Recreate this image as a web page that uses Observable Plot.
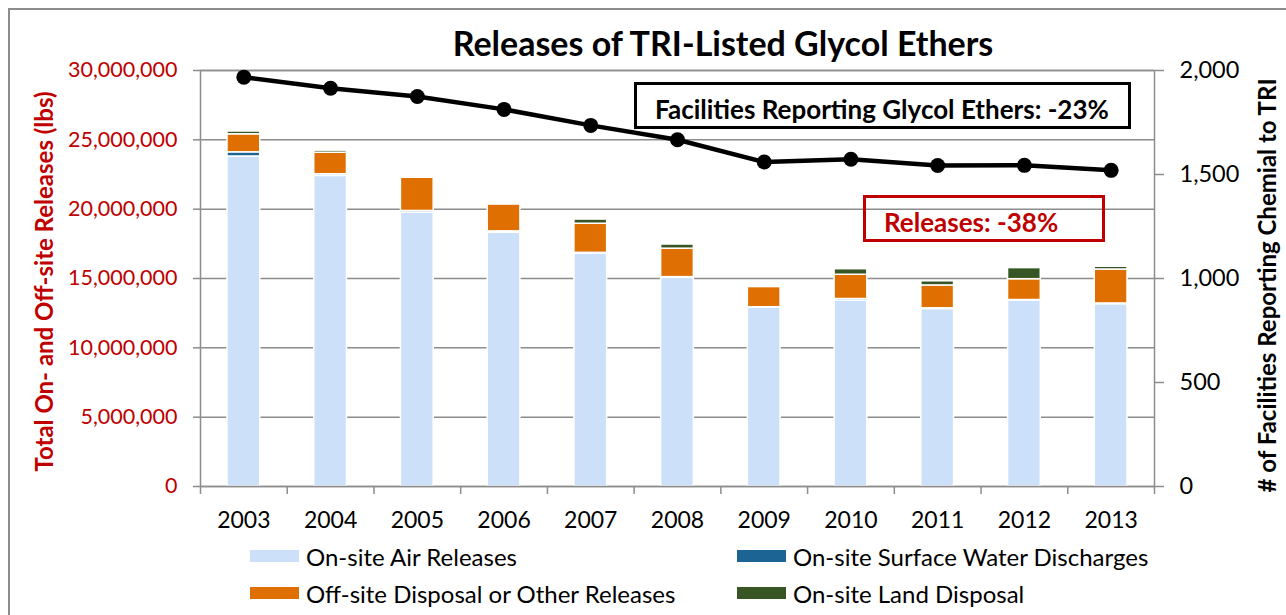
<!DOCTYPE html>
<html>
<head>
<meta charset="utf-8">
<script src="https://cdn.jsdelivr.net/npm/d3@7"></script>
<script src="https://cdn.jsdelivr.net/npm/@observablehq/plot@0.6"></script>
<style>
  html, body { margin: 0; padding: 0; background: #fff; }
  #wrap { position: relative; width: 1286px; height: 615px; overflow: hidden; font-family: Lato, "Open Sans", sans-serif; }
  #frame { position: absolute; left: 8px; top: 8px; width: 1400px; height: 800px; border: 2px solid #8c8c8c; box-sizing: border-box; }
  #title { position: absolute; left: 0; width: 1446px; top: 22px; text-align: center; font-weight: 700; font-size: 34px; color: #000; white-space: nowrap; }
  .chart { position: absolute; left: 0; top: 0; width: 1286px; height: 530px; }
  .chart svg { max-width: none !important; display: block; overflow: visible; }
  .box { position: absolute; box-sizing: border-box; font-weight: 700; white-space: nowrap; overflow: visible; }
  .leg { position: absolute; display: flex; align-items: center; font-size: 24px; color: #000; white-space: nowrap; }
  .sw { width: 49px; height: 12px; margin-right: 7px; }
</style>
</head>
<body>
<div id="wrap">
  <div id="frame"></div>
  <div id="title"></div>
  <div id="chart1" class="chart"></div>
  <div id="chart2" class="chart"></div>
  <div id="boxF" class="box"></div>
  <div id="boxR" class="box"></div>
  <div id="legend"></div>
</div>
<script>
// ---------- data ----------
const years = ["2003","2004","2005","2006","2007","2008","2009","2010","2011","2012","2013"];
const categories = ["On-site Air Releases", "On-site Surface Water Discharges", "Off-site Disposal or Other Releases", "On-site Land Disposal"];
const colors = ["#cce0f9", "#1b6493", "#de6f00", "#375623"];
const airReleases   = [23800000, 22400000, 19750000, 18300000, 16800000, 15050000, 12900000, 13400000, 12800000, 13400000, 13150000];
const waterDischarges = [300000, 120000, 120000, 100000, 50000, 50000, 30000, 120000, 50000, 50000, 50000];
const offsiteDisposal = [1300000, 1550000, 2400000, 1950000, 2100000, 2050000, 1450000, 1750000, 1650000, 1500000, 2450000];
const landDisposal  = [200000, 150000, 20000, 20000, 300000, 300000, 0, 400000, 300000, 800000, 200000];
const facilities = [1968, 1915, 1875, 1813, 1736, 1667, 1560, 1573, 1543, 1544, 1520];
const leftTicks = [0, 5000000, 10000000, 15000000, 20000000, 25000000, 30000000];
const rightTicks = [0, 500, 1000, 1500, 2000];
const titleText = "Releases of TRI-Listed Glycol Ethers";
const leftTitle = "Total On- and Off-site Releases (lbs)";
const rightTitle = "# of Facilities Reporting Chemial to TRI";
const facText = "Facilities Reporting Glycol Ethers: -23%";
const relText = "Releases: -38%";

// ---------- build ----------
const series = [airReleases, waterDischarges, offsiteDisposal, landDisposal];
const stacked = [];
years.forEach((y, i) => series.forEach((s, k) => stacked.push({i, year: y, cat: categories[k], value: s[i]})));
const lineData = years.map((y, i) => ({i, year: y, count: facilities[i]}));

const W = 1286, H = 530;
const M = {left: 200, right: 132, top: 70, bottom: 44};
const gray = "#8c8c8c";
const red = "#c00000";
const fmt = d3.format(",");

document.getElementById("title").textContent = titleText;

const common = {
  width: W, height: H,
  marginLeft: M.left, marginRight: M.right, marginTop: M.top, marginBottom: M.bottom,
  style: {fontFamily: "Lato, 'Open Sans', sans-serif", fontSize: "21px", background: "transparent", overflow: "visible", maxWidth: "none"},
  x: {type: "linear", domain: [0, years.length], axis: null}
};

const chart1 = Plot.plot({
  ...common,
  y: {domain: [0, 30000000], axis: null},
  color: {domain: categories, range: colors},
  marks: [
    Plot.gridY(leftTicks, {stroke: gray, strokeOpacity: 1, strokeWidth: 1.5}),
    Plot.rectY(stacked, {x1: "i", x2: d => d.i + 1, y: "value", fill: "cat", stroke: "#fff", strokeWidth: 1.5, insetLeft: 27, insetRight: 27}),
    Plot.frame({stroke: gray, strokeWidth: 1.5}),
    Plot.axisY(leftTicks, {tickSize: 7, tickPadding: 16, tickFormat: fmt, fill: red, stroke: gray, strokeWidth: 1.5, fontSize: 21.5, label: null}),
    Plot.axisX(d3.range(years.length + 1), {tickSize: 8, tickFormat: () => "", stroke: gray, strokeWidth: 1.5, label: null}),
    Plot.axisX(d3.range(years.length).map(i => i + 0.5), {tickSize: 0, tickPadding: 25, tickFormat: v => years[Math.floor(v)], fill: "#000", fontSize: 23, label: null}),
    Plot.text([leftTitle], {frameAnchor: "left", textAnchor: "middle", dx: -155, dy: 3, rotate: -90, fill: red, fontWeight: "bold", fontSize: 24})
  ]
});
document.getElementById("chart1").appendChild(chart1);

const chart2 = Plot.plot({
  ...common,
  y: {domain: [0, 2000], axis: null},
  marks: [
    Plot.line(lineData, {x: d => d.i + 0.5, y: "count", stroke: "#000", strokeWidth: 4.5}),
    Plot.dot(lineData, {x: d => d.i + 0.5, y: "count", r: 7.5, fill: "#000"}),
    Plot.axisY(rightTicks, {anchor: "right", tickSize: 9, tickPadding: 16, tickFormat: fmt, fill: "#000", stroke: gray, strokeWidth: 1.5, fontSize: 23.5, label: null}),
    Plot.text([rightTitle], {frameAnchor: "right", textAnchor: "middle", dx: 114, dy: 7, rotate: -90, fill: "#000", fontWeight: "bold", fontSize: 24})
  ]
});
document.getElementById("chart2").appendChild(chart2);

// annotation boxes
const bF = document.getElementById("boxF");
bF.textContent = facText;
Object.assign(bF.style, {left: "634px", top: "82px", width: "497px", height: "47px", border: "3px solid #000", fontSize: "26px", color: "#000", paddingLeft: "18px", lineHeight: "49px"});
const bR = document.getElementById("boxR");
bR.textContent = relText;
Object.assign(bR.style, {left: "863px", top: "195px", width: "242px", height: "47px", border: "3px solid " + red, fontSize: "26px", color: red, paddingLeft: "18px", lineHeight: "49px"});

// legend
const legendPos = [[250, 556], [737, 556], [250, 593], [737, 593]];
const legend = document.getElementById("legend");
categories.forEach((c, k) => {
  const d = document.createElement("div");
  d.className = "leg";
  d.style.left = legendPos[k][0] + "px";
  d.style.top = (legendPos[k][1] - 15) + "px";
  d.style.height = "30px";
  const sw = document.createElement("div");
  sw.className = "sw";
  sw.style.background = colors[k];
  const t = document.createElement("span");
  t.textContent = c;
  d.appendChild(sw); d.appendChild(t);
  legend.appendChild(d);
});
</script>
</body>
</html>
